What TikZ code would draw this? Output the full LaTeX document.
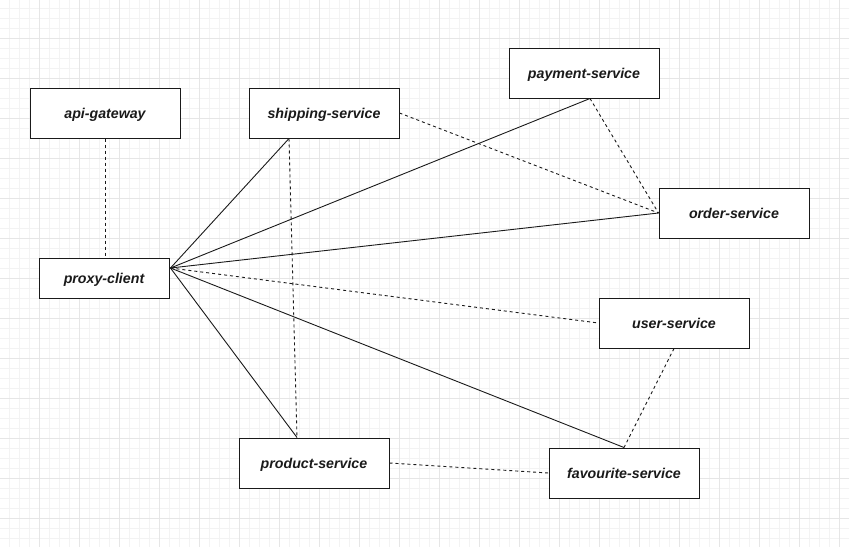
\documentclass[tikz,border=0pt]{standalone}
\usepackage{fontspec}
\setmainfont{Liberation Sans}
\usetikzlibrary{calc}
\definecolor{minorgrid}{HTML}{F3F3F3}
\definecolor{majorgrid}{HTML}{E6E6E6}
\definecolor{ink}{HTML}{1A1A1A}
\begin{document}
\begin{tikzpicture}[x=1pt,y=-1pt,
  svc/.style={draw=ink,line width=1pt,fill=white,minimum width=150pt,minimum height=50pt,inner sep=0pt,
    text height=11.5pt,text depth=1pt,
    font=\fontsize{14.2}{16}\selectfont\bfseries\itshape,text=ink},
  link/.style={draw=ink,line width=0.9pt},
  dlink/.style={draw=ink,line width=0.9pt,dash pattern=on 3pt off 3pt}]
\useasboundingbox (0,0) rectangle (849,547);
\fill[white] (0,0) rectangle (849,547);
% grid
\foreach \x in {9,19,...,849} \draw[minorgrid,line width=0.8pt] (\x,0) -- (\x,547);
\foreach \y in {8,18,...,547} \draw[minorgrid,line width=0.8pt] (0,\y) -- (849,\y);
\foreach \x in {39,79,...,849} \draw[majorgrid,line width=1pt] (\x,0) -- (\x,547);
\foreach \y in {38,78,...,547} \draw[majorgrid,line width=1pt] (0,\y) -- (849,\y);
% nodes
\node[svc] (api) at (105,113) {api-gateway};
\node[svc] (ship) at (324,113) {shipping-service};
\node[svc] (pay) at (584,73) {payment-service};
\node[svc] (order) at (734,213) {order-service};
\node[svc,minimum width=130pt,minimum height=40pt] (proxy) at (104,278) {proxy-client};
\node[svc] (user) at (674,323) {user-service};
\node[svc] (fav) at (624,473) {favourite-service};
\node[svc] (prod) at (314,463) {product-service};
% anchor points
\coordinate (pc) at ($(proxy.east)+(1,-10)$);
\coordinate (shipb) at ($(ship.south)+(-35,0)$);
\coordinate (payb) at ($(pay.south)+(6,0)$);
\coordinate (prodt) at ($(prod.north)+(-17,0)$);
% connectors
\draw[dlink] (api.south) -- (api.south |- proxy.north);
\draw[link] (pc) -- (shipb);
\draw[link] (pc) -- (payb);
\draw[link] (pc) -- (order.west);
\draw[dlink] (pc) -- (user.west);
\draw[link] (pc) -- (fav.north);
\draw[link] (pc) -- (prodt);
\draw[dlink] (shipb) -- (prodt);
\draw[dlink] (ship.east) -- (order.west);
\draw[dlink] (payb) -- (order.west);
\draw[dlink] (user.south) -- (fav.north);
\draw[dlink] (prod.east) -- (fav.west);
\end{tikzpicture}
\end{document}
